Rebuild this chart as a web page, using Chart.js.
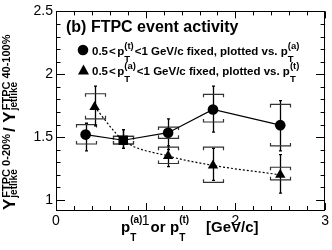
<!DOCTYPE html>
<html lang="en">
<head>
    <meta charset="UTF-8">
    <title>FTPC event activity</title>
    <script src="https://cdn.jsdelivr.net/npm/chart.js"></script>
    <style>
        html, body { margin: 0; padding: 0; background: #fff; }
        #wrap { width: 332px; height: 250px; }
    </style>
</head>
<body>
    <div id="wrap"><canvas id="ratioChart" width="332" height="250"></canvas></div>

    <script>
        // circles: 0.5<pT(t)<1 fixed, plotted vs pT(a)
        const circleX      = [0.33, 0.75, 1.25, 1.75, 2.5];
        const circleY      = [1.52, 1.475, 1.535, 1.72, 1.595];
        const circleStatLo = [1.39, 1.41, 1.40, 1.54, 1.39];
        const circleStatHi = [1.61, 1.56, 1.645, 1.905, 1.79];
        const circleSysLo  = [1.445, 1.445, 1.49, 1.62, 1.43];
        const circleSysHi  = [1.60, 1.505, 1.58, 1.84, 1.76];

        // triangles: 0.5<pT(a)<1 fixed, plotted vs pT(t)
        const triX      = [0.43, 0.75, 1.25, 1.75, 2.5];
        const triY      = [1.74, 1.475, 1.35, 1.275, 1.20];
        const triStatLo = [1.59, 1.41, 1.265, 1.155, 1.055];
        const triStatHi = [1.905, 1.56, 1.43, 1.41, 1.36];
        const triSysLo  = [1.645, 1.445, 1.29, 1.14, 1.16];
        const triSysHi  = [1.845, 1.505, 1.42, 1.42, 1.26];

        // axis ticks
        const xTickValues = [0, 1, 2, 3];
        const yTickValues = [1, 1.5, 2, 2.5];

        const FONT = '"Liberation Sans", Arial, Helvetica, sans-serif';

        // draw text with sub/superscript stacks ({at} jumps to an absolute x)
        function drawRich(ctx, x, y, parts) {
            parts.forEach(p => {
                if (p.gap) { x += p.gap; return; }
                if (p.at !== undefined) { x = p.at; return; }
                ctx.font = 'bold ' + p.s + 'px ' + FONT;
                if (p.t !== undefined) {
                    ctx.fillText(p.t, x, y);
                    x += ctx.measureText(p.t).width;
                } else {
                    ctx.fillText(p.sup, x, y + p.up);
                    const w1 = ctx.measureText(p.sup).width;
                    if (p.subS) ctx.font = 'bold ' + p.subS + 'px ' + FONT;
                    ctx.fillText(p.sub, x, y + p.down);
                    x += Math.max(w1, ctx.measureText(p.sub).width);
                }
            });
        }

        // error bars (stat + sys brackets), drawn under the markers
        const errorBars = {
            id: 'errorBars',
            beforeDatasetsDraw(chart) {
                const ctx = chart.ctx;
                const xs = chart.scales.x, ys = chart.scales.y;
                const series = [
                    [circleX, circleStatLo, circleStatHi, circleSysLo, circleSysHi],
                    [triX, triStatLo, triStatHi, triSysLo, triSysHi]
                ];
                ctx.save();
                series.forEach(([xv, sLo, sHi, yLo, yHi]) => {
                    xv.forEach((v, i) => {
                        const px = Math.round(xs.getPixelForValue(v)) + 0.5;
                        // stat
                        ctx.strokeStyle = '#000';
                        ctx.lineWidth = 1.3;
                        const a = ys.getPixelForValue(sHi[i]), b = ys.getPixelForValue(sLo[i]);
                        ctx.beginPath();
                        ctx.moveTo(px, a); ctx.lineTo(px, b);
                        ctx.moveTo(px - 1.5, a); ctx.lineTo(px + 1.5, a);
                        ctx.moveTo(px - 1.5, b); ctx.lineTo(px + 1.5, b);
                        ctx.stroke();
                        // sys brackets
                        ctx.strokeStyle = '#333';
                        ctx.lineWidth = 1.2;
                        const t = ys.getPixelForValue(yHi[i]), u = ys.getPixelForValue(yLo[i]);
                        ctx.beginPath();
                        ctx.moveTo(px - 10, t + 3); ctx.lineTo(px - 10, t); ctx.lineTo(px + 10, t); ctx.lineTo(px + 10, t + 3);
                        ctx.moveTo(px - 10, u - 3); ctx.lineTo(px - 10, u); ctx.lineTo(px + 10, u); ctx.lineTo(px + 10, u - 3);
                        ctx.stroke();
                    });
                });
                ctx.restore();
            },
            afterDraw(chart) {
                const ctx = chart.ctx;
                const area = chart.chartArea;
                const xs = chart.scales.x, ys = chart.scales.y;
                ctx.save();
                ctx.strokeStyle = '#000';
                ctx.lineWidth = 1;
                // frame
                ctx.strokeRect(Math.round(area.left) + 0.5, Math.round(area.top) + 0.5,
                    Math.round(area.right - area.left) - 1, Math.round(area.bottom - area.top));
                // inward ticks on all four sides
                ctx.beginPath();
                for (let v = 0; v <= 3.001; v += 0.2) {
                    const px = Math.round(xs.getPixelForValue(v)) + 0.5;
                    const len = Math.abs(v - Math.round(v)) < 0.01 ? 7 : 4;
                    ctx.moveTo(px, area.bottom); ctx.lineTo(px, area.bottom - len);
                    ctx.moveTo(px, area.top); ctx.lineTo(px, area.top + len);
                }
                for (let v = 1; v <= 2.501; v += 0.1) {
                    const py = Math.round(ys.getPixelForValue(v)) + 0.5;
                    const major = Math.abs(v * 2 - Math.round(v * 2)) < 0.01;
                    const len = major ? 9 : 4.5;
                    ctx.moveTo(area.left, py); ctx.lineTo(area.left + len, py);
                    ctx.moveTo(area.right, py); ctx.lineTo(area.right - len, py);
                }
                ctx.stroke();

                ctx.fillStyle = '#000';
                ctx.textBaseline = 'alphabetic';
                ctx.textAlign = 'left';

                // legend
                ctx.font = 'bold 16px ' + FONT;
                ctx.fillText('(b) FTPC event activity', 66, 32);

                ctx.beginPath();
                ctx.arc(83, 50, 5.3, 0, Math.PI * 2);
                ctx.fill();
                drawRich(ctx, 92, 54.5, [
                    {t: '0.5', s: 11.5}, {gap: 1}, {t: '<', s: 11.5}, {gap: 1.5}, {t: 'p', s: 11.5},
                    {sup: '(t)', sub: 'T', s: 9.5, up: -5.5, down: 7}, {gap: 1},
                    {t: '<1 GeV/c fixed, plotted vs. p', s: 11.5},
                    {sup: '(a)', sub: 'T', s: 9.5, up: -5.5, down: 7}
                ]);

                ctx.beginPath();
                ctx.moveTo(83.5, 64.5); ctx.lineTo(89, 74.5); ctx.lineTo(78, 74.5);
                ctx.closePath();
                ctx.fill();
                drawRich(ctx, 92, 74.5, [
                    {t: '0.5', s: 11.5}, {gap: 1}, {t: '<', s: 11.5}, {gap: 1.5}, {t: 'p', s: 11.5},
                    {sup: '(a)', sub: 'T', s: 9.5, up: -5.5, down: 7}, {gap: 1},
                    {t: '<1 GeV/c fixed, plotted vs. p', s: 11.5},
                    {sup: '(t)', sub: 'T', s: 9.5, up: -5.5, down: 7}
                ]);

                // x title
                drawRich(ctx, 121, 232, [
                    {t: 'p', s: 15}, {sup: '(a)', sub: 'T', s: 10, up: -9, down: 9},
                    {at: 150.5}, {t: 'or', s: 15}, {at: 170}, {t: 'p', s: 15},
                    {sup: '(t)', sub: 'T', s: 10, up: -9, down: 9},
                    {at: 206}, {t: '[GeV/c]', s: 15}
                ]);

                // y title (rotated)
                ctx.translate(15, 210);
                ctx.rotate(-Math.PI / 2);
                drawRich(ctx, 0, 0, [
                    {t: 'Y', s: 17}, {gap: 1},
                    {sup: 'FTPC 0-20%', sub: 'jetlike', s: 11, subS: 10, up: -5.5, down: 2},
                    {gap: 2}, {t: '/ ', s: 17}, {t: 'Y', s: 17}, {gap: 1},
                    {sup: 'FTPC 40-100%', sub: 'jetlike', s: 11, subS: 10, up: -5.5, down: 2}
                ]);
                ctx.restore();
            }
        };

        const ctx = document.getElementById('ratioChart').getContext('2d');
        const ratioChart = new Chart(ctx, {
            type: 'line',
            data: {
                datasets: [
                    {
                        label: '0.5<pT(t)<1 GeV/c fixed, plotted vs. pT(a)',
                        data: circleX.map((x, i) => ({x: x, y: circleY[i]})),
                        borderColor: '#000',
                        backgroundColor: '#000',
                        borderWidth: 1.2,
                        pointStyle: ['circle', 'rect', 'circle', 'circle', 'circle'],
                        pointRadius: [5.3, 6.5, 5.3, 5.3, 5.3],
                        pointBorderWidth: 0
                    },
                    {
                        label: '0.5<pT(a)<1 GeV/c fixed, plotted vs. pT(t)',
                        data: triX.map((x, i) => ({x: x, y: triY[i]})),
                        borderColor: '#000',
                        backgroundColor: '#000',
                        borderWidth: 1.2,
                        borderDash: [2, 2],
                        cubicInterpolationMode: 'monotone',
                        pointStyle: ['triangle', 'rect', 'triangle', 'triangle', 'triangle'],
                        pointRadius: [6, 6.5, 6, 6, 6],
                        pointBorderWidth: 0
                    }
                ]
            },
            options: {
                responsive: false,
                animation: false,
                devicePixelRatio: 1,
                layout: { padding: { top: 7, right: 0, left: 0, bottom: 0 } },
                plugins: {
                    legend: { display: false },
                    tooltip: { enabled: false }
                },
                scales: {
                    x: {
                        type: 'linear',
                        min: 0,
                        max: 3,
                        grid: { display: false, drawTicks: false },
                        border: { display: false },
                        ticks: {
                            color: '#000',
                            padding: 3,
                            font: { family: FONT, size: 14 },
                            callback: v => String(v)
                        },
                        afterBuildTicks: s => { s.ticks = xTickValues.map(v => ({value: v})); },
                        afterFit: s => { s.height = 40; }
                    },
                    y: {
                        min: 0.92,
                        max: 2.5,
                        grid: { display: false, drawTicks: false },
                        border: { display: false },
                        ticks: {
                            color: '#000',
                            padding: 3,
                            font: { family: FONT, size: 14 },
                            callback: v => String(v)
                        },
                        afterBuildTicks: s => { s.ticks = yTickValues.map(v => ({value: v})); },
                        afterFit: s => { s.width = 56; }
                    }
                }
            },
            plugins: [errorBars]
        });
    </script>
</body>
</html>
